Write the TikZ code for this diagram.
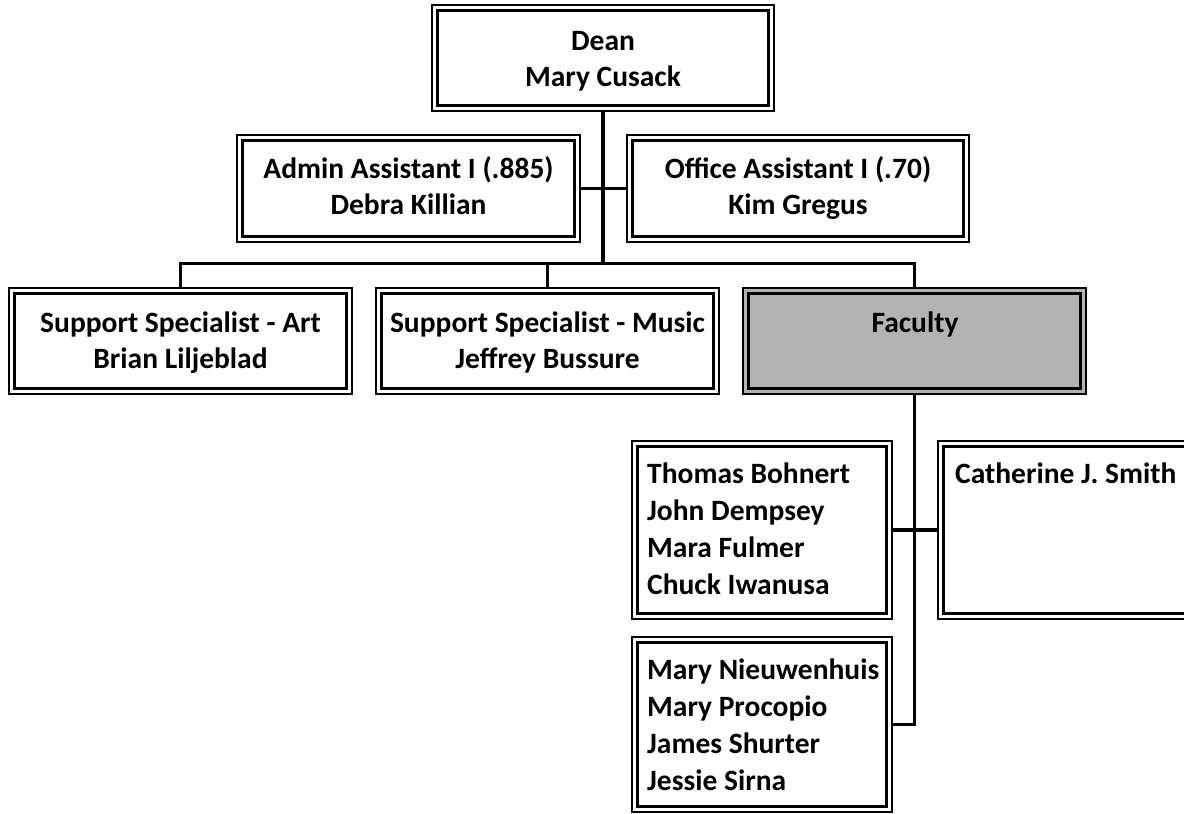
\documentclass[tikz,border=0pt]{standalone}
\usepackage{fontspec}
\setmainfont{Carlito}
\newcommand\firstln{\rule{0pt}{25pt}}
\definecolor{facgray}{HTML}{B3B3B3}
\tikzset{
  box/.style={draw=black, line width=1.2pt, fill=white, inner sep=0pt,
    path picture={\draw[line width=3.8pt]
      ([shift={(5.5pt,-5.5pt)}]path picture bounding box.north west) rectangle
      ([shift={(-5.5pt,5.5pt)}]path picture bounding box.south east);}},
  txt/.style={inner sep=0pt, font=\bfseries\fontsize{29.5}{36.5}\selectfont},
  listtxt/.style={txt, font=\bfseries\fontsize{29.5}{37}\selectfont, anchor=north west, align=left},
  conn/.style={draw=black, line width=3.5pt}
}
\begin{document}
\begin{tikzpicture}[x=1pt,y=-1pt]
\useasboundingbox (0,0) rectangle (1184,814);
\clip (0,0) rectangle (1184,814);
\fill[white] (0,0) rectangle (1184,814);

\coordinate (bus) at (603,264);
% boxes
\node[box, minimum width=342pt, minimum height=106pt] (dean) at (603,58) {};
\node[box, minimum width=343pt, minimum height=107pt] (admin) at (408.5,188.5) {};
\node[box, minimum width=342pt, minimum height=107pt] (office) at (798,188.5) {};
\node[box, minimum width=343pt, minimum height=106pt] (art) at (180.5,341) {};
\node[box, minimum width=343pt, minimum height=106pt] (music) at (547.5,341) {};
\node[box, fill=facgray, minimum width=343pt, minimum height=106pt] (fac) at (914.5,341) {};
\node[box, minimum width=260pt, minimum height=178pt] (thomas) at (762,530) {};
\node[box, minimum width=312pt, minimum height=178pt] (cath) at (1094,530) {};
\node[box, minimum width=260pt, minimum height=175pt] (bot) at (762,724.5) {};

% connectors
\draw[conn] (dean.south) -- (bus);
\draw[conn] (admin.east) -- (office.west);
\draw[conn] (art.north) -- ++(0,-24) -| (fac.north);
\draw[conn] (music.north) -- ++(0,-24);
\draw[conn] (fac.south) |- (bot.east);
\draw[conn] (thomas.east) -- (cath.west);

% texts
\node[txt, anchor=north, align=center] (deanT) at (603,25) {\firstln Dean\\Mary Cusack};
\node[txt, anchor=north, align=center] (adminT) at (408.5,153) {\firstln Admin Assistant I (.885)\\Debra Killian};
\node[txt, anchor=north, align=center] (officeT) at (798,153) {\firstln Office Assistant I (.70)\\Kim Gregus};
\node[txt, anchor=north, align=center] (artT) at (180.5,307) {\firstln Support Specialist - Art\\Brian Liljeblad};
\node[txt, anchor=north, align=center] (musicT) at (547.5,307) {\firstln Support Specialist - Music\\Jeffrey Bussure};
\node[txt, anchor=north, align=center] (facT) at (915,307) {\firstln Faculty};
\node[listtxt] (thomasT) at (647,458) {\firstln Thomas Bohnert\\John Dempsey\\Mara Fulmer\\Chuck Iwanusa};
\node[listtxt] (cathT) at (955,458) {\firstln Catherine J. Smith};
\node[listtxt] (botT) at (647,654) {\firstln Mary Nieuwenhuis\\Mary Procopio\\James Shurter\\Jessie Sirna};
\end{tikzpicture}
\end{document}
